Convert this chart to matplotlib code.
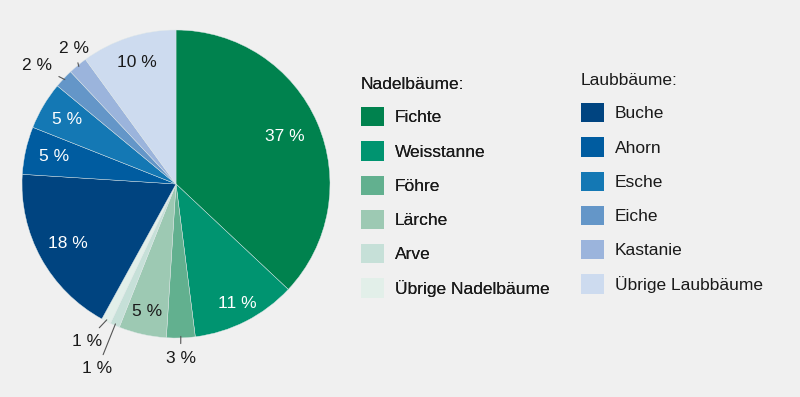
"""Pie chart: Anteile der Baumarten (Nadel- und Laubbäume)."""

import matplotlib

matplotlib.use("Agg")
import matplotlib.pyplot as plt
import numpy as np
from matplotlib.patches import Patch

plt.rcParams["font.family"] = ["Liberation Sans", "DejaVu Sans"]

# data, clockwise from 12 o'clock
nadel_names = ["Fichte", "Weisstanne", "Föhre", "Lärche", "Arve", "Übrige Nadelbäume"]
nadel_values = [37, 11, 3, 5, 1, 1]
nadel_colors = ["#00824e", "#009470", "#62b08f", "#9dc9b3", "#c6e0d8", "#e2efe9"]

laub_names = ["Buche", "Ahorn", "Esche", "Eiche", "Kastanie", "Übrige Laubbäume"]
laub_values = [18, 5, 5, 2, 2, 10]
laub_colors = ["#004480", "#005ca0", "#1478b4", "#6496c8", "#9bb4dc", "#cddbef"]

values = nadel_values + laub_values
colors = nadel_colors + laub_colors
labels = [f"{v} %" for v in values]

# label placement: radius factor for inside labels, text position for outside ones
label_radius = [0.77, 0.87, None, 0.85, None, None, 0.80, 0.81, 0.82, None, None, 0.83]
outside_pos = {2: (0.03, -1.13), 4: (-0.51, -1.20), 5: (-0.58, -1.02),
               9: (-0.90, 0.77), 10: (-0.66, 0.88)}
white_text = {0, 1, 6, 7, 8}

BG = "#f0f0f0"
INK = "#1a1a1a"
fig = plt.figure(figsize=(8, 3.97), dpi=100, facecolor=BG)

cx, cy, r = 176, 184, 154
ax = fig.add_axes([(cx - r) / 800, (397 - cy - r) / 397, 2 * r / 800, 2 * r / 397])
ax.set_facecolor(BG)
wedges, _ = ax.pie(
    values,
    colors=colors,
    startangle=90,
    counterclock=False,
    radius=1,
    wedgeprops={"linewidth": 0.3, "edgecolor": "#dfe8e8"},
)
ax.set_xlim(-1, 1)
ax.set_ylim(-1, 1)
ax.set_aspect("equal")
ax.axis("off")

for i, w in enumerate(wedges):
    mid = np.deg2rad((w.theta1 + w.theta2) / 2)
    color = "white" if i in white_text else INK
    if label_radius[i] is not None:
        rr = label_radius[i]
        ax.text(rr * np.cos(mid), rr * np.sin(mid), labels[i], ha="center", va="center",
                fontsize=12.5, color=color)
    else:
        tx, ty = outside_pos[i]
        ax.annotate(
            labels[i],
            xy=(0.99 * np.cos(mid), 0.99 * np.sin(mid)),
            xytext=(tx, ty),
            ha="center", va="center", fontsize=12.5, color=INK,
            annotation_clip=False,
            arrowprops={"arrowstyle": "-", "color": "#555555", "lw": 0.8,
                        "shrinkA": 3, "shrinkB": 0},
        )


def add_legend(names, cols, title, x, y):
    handles = [Patch(facecolor=c, edgecolor="none") for c in cols]
    leg = fig.legend(
        handles, names, title=title, loc="upper left", bbox_to_anchor=(x, y),
        frameon=False, fontsize=12.5, title_fontsize=12.5, alignment="left",
        labelcolor=INK,
        handlelength=1.32, handleheight=1.32, handletextpad=0.63, labelspacing=0.87,
        borderaxespad=0, borderpad=0,
    )
    leg.get_title().set_color(INK)
    return leg


fig.add_artist(add_legend(nadel_names, nadel_colors, "Nadelbäume:", 361 / 800, 1 - 77 / 397))
add_legend(laub_names, laub_colors, "Laubbäume:", 581 / 800, 1 - 73 / 397)

fig.savefig("out.png", dpi=100, facecolor=BG)
